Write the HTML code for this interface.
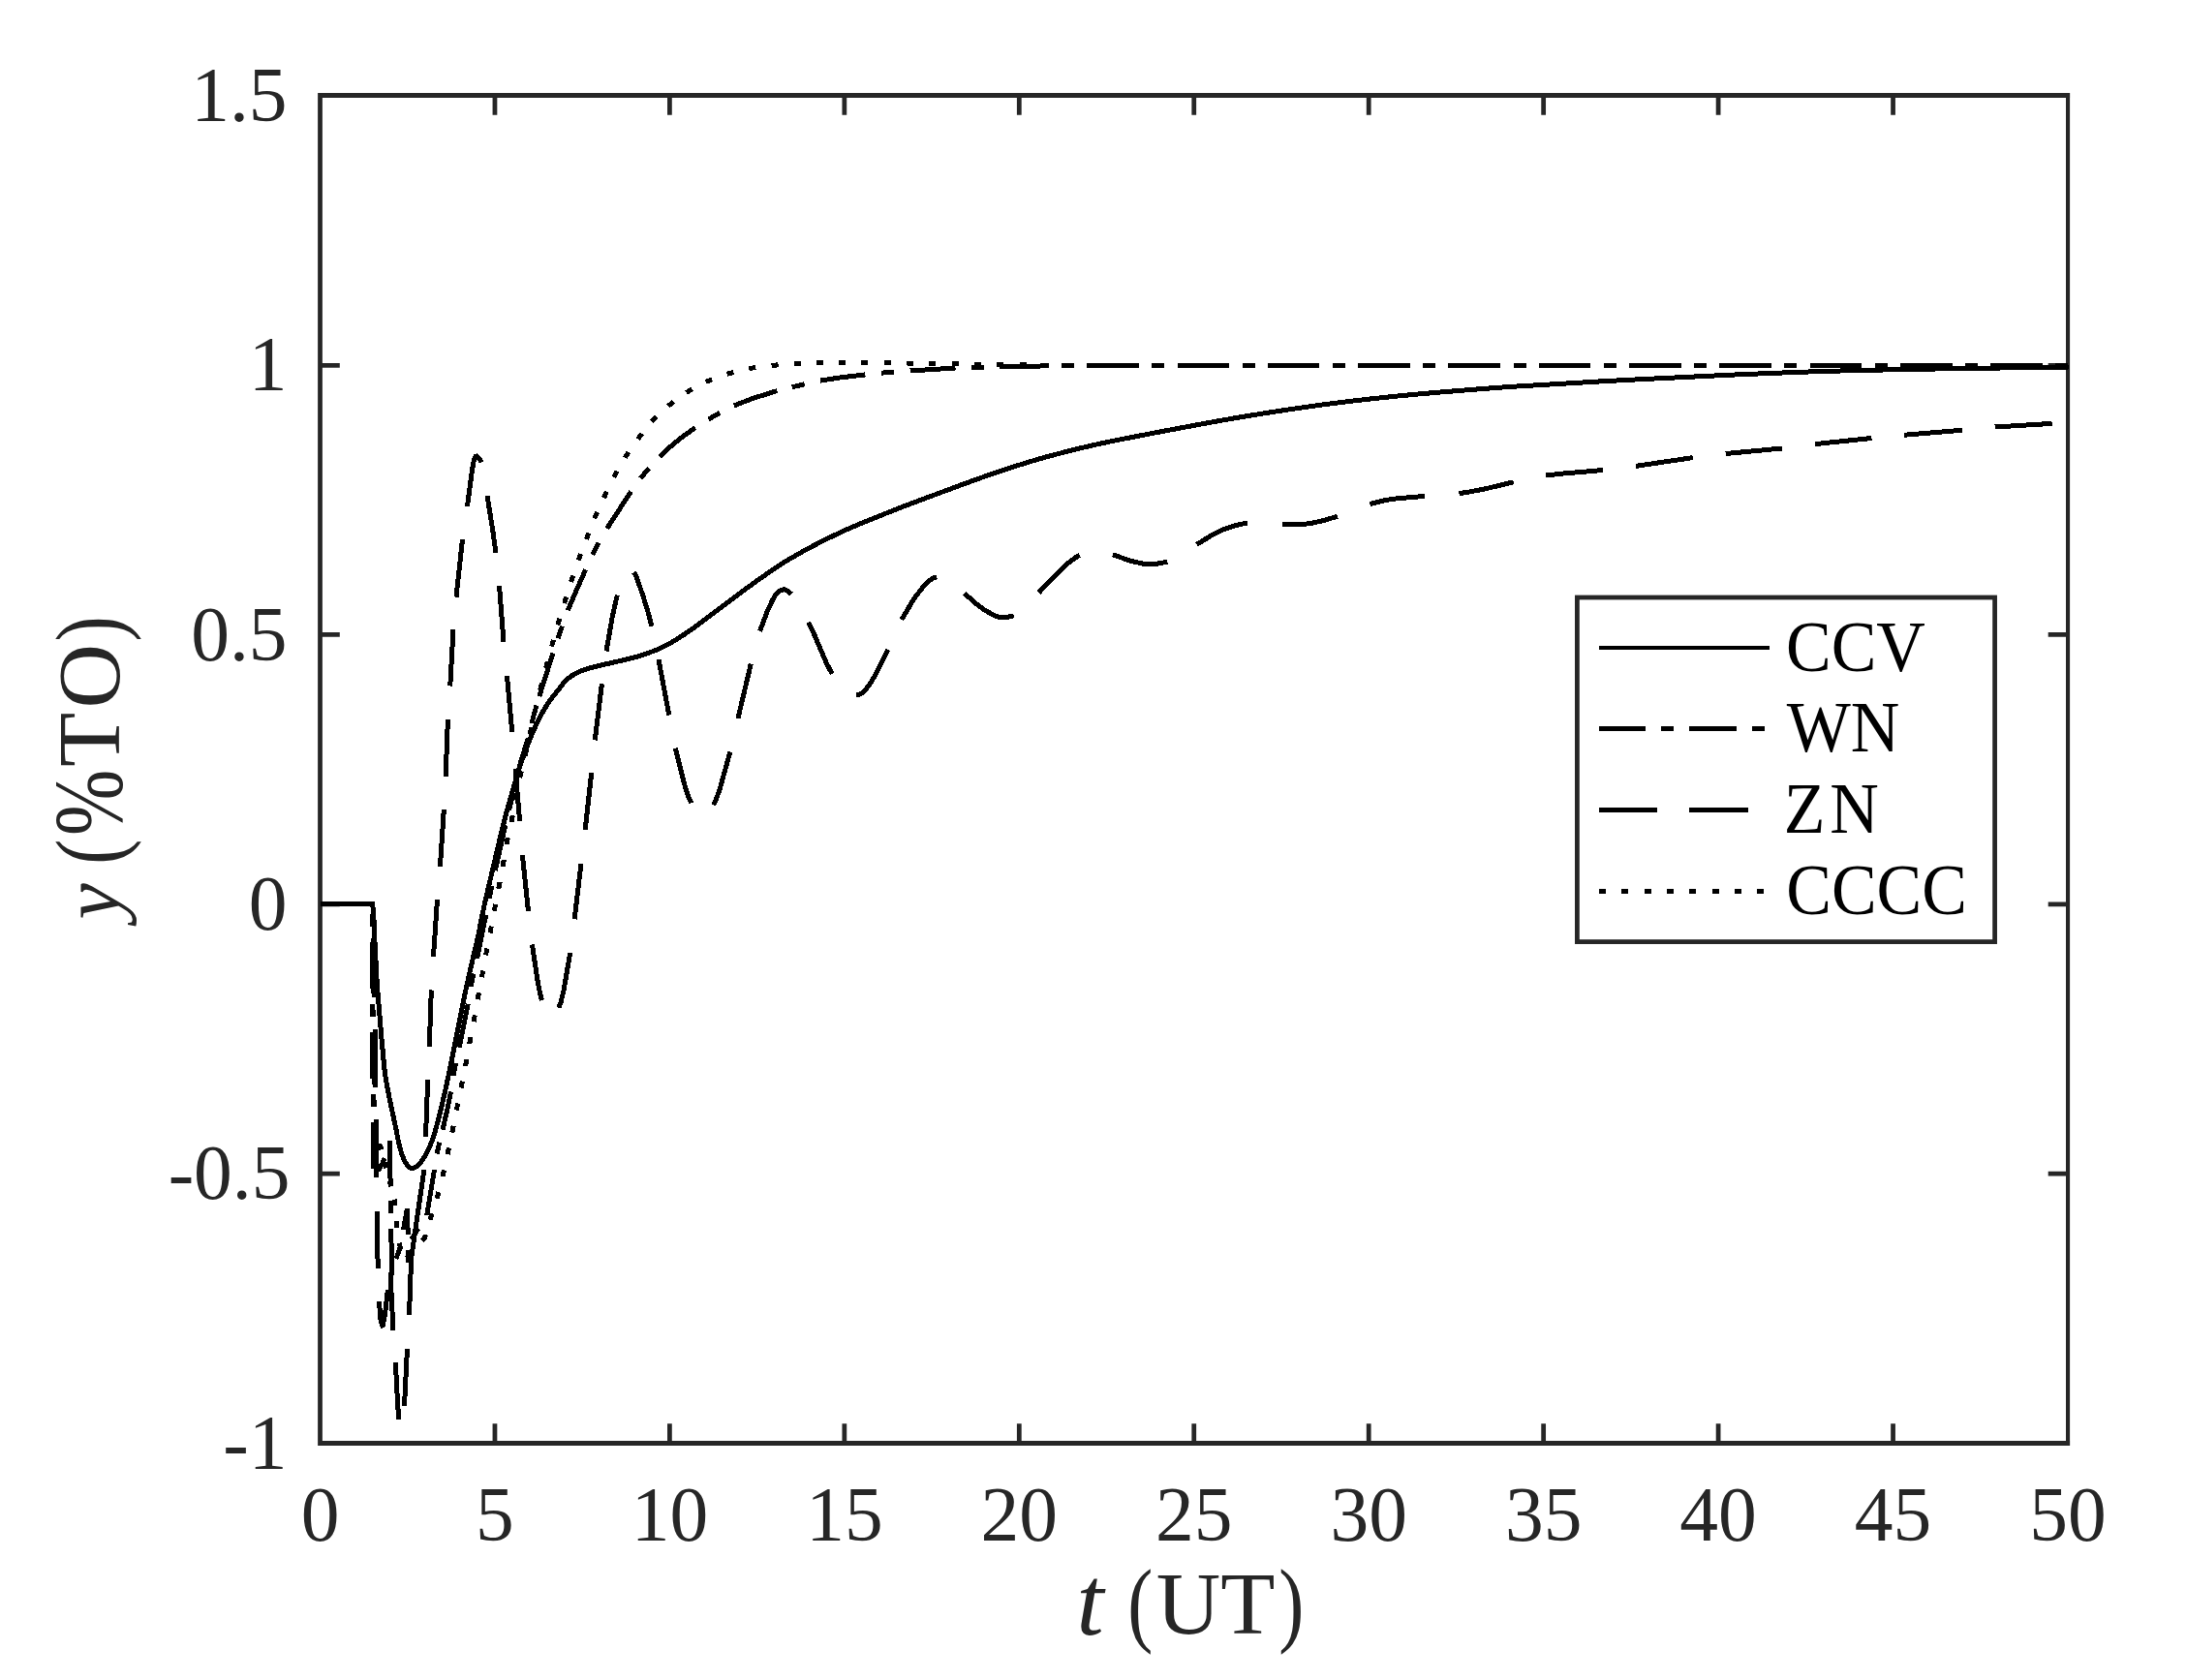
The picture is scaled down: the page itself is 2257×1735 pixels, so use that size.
<!DOCTYPE html>
<html lang="en">
<head>
<meta charset="utf-8">
<title>Step response comparison: CCV, WN, ZN, CCCC</title>
<style>
html,body{margin:0;padding:0;background:#fff;}
body{width:2257px;height:1735px;overflow:hidden;}
svg{display:block;}
</style>
</head>
<body>
<svg width="2257" height="1735" viewBox="0 0 2257 1735">
<rect x="0" y="0" width="2257" height="1735" fill="#fff"/>
<g fill="none" stroke="#262626" stroke-width="4.76">
<path d="M330.50 96.12V1492.88M328.12 98.50H2137.05M328.12 1490.50H2137.05"/>
<path d="M2135.05 96.12V1492.88" stroke-width="4.1"/>
<path d="M510.95 1490.50v-20.30M510.95 98.50v20.30M691.40 1490.50v-20.30M691.40 98.50v20.30M871.85 1490.50v-20.30M871.85 98.50v20.30M1052.30 1490.50v-20.30M1052.30 98.50v20.30M1232.75 1490.50v-20.30M1232.75 98.50v20.30M1413.20 1490.50v-20.30M1413.20 98.50v20.30M1593.65 1490.50v-20.30M1593.65 98.50v20.30M1774.10 1490.50v-20.30M1774.10 98.50v20.30M1954.55 1490.50v-20.30M1954.55 98.50v20.30M330.50 1212.20h20.30M2135.00 1212.20h-20.30M330.50 933.80h20.30M2135.00 933.80h-20.30M330.50 655.40h20.30M2135.00 655.40h-20.30M330.50 377.30h20.30M2135.00 377.30h-20.30"/>
</g>
<g fill="none" stroke="#000" stroke-width="5.00" stroke-linejoin="miter" stroke-miterlimit="2" shape-rendering="crispEdges">
<path d="M330.5 933.7L384.6 933.7C384.9 935.4 385.2 938.4 385.5 942.0C386.2 950.1 386.8 970.4 387.5 983.0C388.2 995.6 388.8 1008.3 389.5 1018.0C390.2 1028.2 390.9 1035.6 391.6 1044.0C392.6 1055.7 393.5 1067.6 394.5 1078.0C395.6 1089.5 396.6 1102.3 397.7 1110.0C398.6 1116.7 399.6 1121.0 400.5 1126.0C401.5 1131.3 402.5 1136.2 403.5 1141.0C405.1 1148.7 406.7 1155.8 408.3 1163.3C410.0 1171.1 411.6 1181.0 413.3 1186.7C415.0 1192.4 416.6 1197.1 418.3 1200.0C419.5 1202.2 420.8 1204.2 422.0 1205.0C423.3 1205.9 424.5 1206.7 425.8 1206.7C427.0 1206.7 428.3 1205.7 429.5 1205.0C430.8 1204.2 432.0 1203.1 433.3 1201.7C435.5 1199.3 437.8 1195.7 440.0 1191.7C442.2 1187.7 444.5 1182.8 446.7 1176.7C448.9 1170.7 451.1 1161.8 453.3 1153.3C455.5 1144.7 457.8 1135.0 460.0 1125.0C462.2 1115.0 464.5 1104.2 466.7 1093.3C468.9 1082.6 471.1 1071.0 473.3 1060.0C475.5 1048.8 477.8 1037.2 480.0 1026.7C482.2 1016.2 484.5 1006.5 486.7 996.7C488.9 987.0 491.1 978.6 493.3 968.3C494.9 961.0 496.4 952.1 498.0 944.6C499.8 935.9 501.7 927.8 503.5 919.8C505.6 910.8 507.6 902.3 509.7 893.5C511.8 884.7 513.8 875.8 515.9 867.2C517.9 858.8 520.0 850.1 522.0 842.4C524.1 834.6 526.1 827.9 528.2 820.7C530.3 813.5 532.3 805.8 534.4 799.1C536.5 792.4 538.5 786.2 540.6 780.5C543.2 773.3 545.8 766.6 548.4 760.4C551.5 753.1 554.5 746.0 557.6 740.2C560.7 734.3 563.8 729.3 566.9 724.8C569.9 720.4 573.0 716.8 576.0 713.0C579.3 708.8 582.7 703.7 586.0 701.0C589.0 698.5 592.0 696.8 595.0 695.3C597.8 693.8 600.7 692.6 603.5 691.6C608.7 689.8 613.8 688.7 619.0 687.4C626.1 685.6 633.3 684.2 640.4 682.5C646.5 681.0 652.6 679.7 658.7 677.9C664.8 676.1 670.9 674.0 677.0 671.5C683.1 669.0 689.2 665.8 695.3 662.3C701.4 658.8 707.5 654.6 713.6 650.4C719.7 646.2 725.8 641.3 731.9 636.7C738.0 632.1 744.1 627.6 750.2 623.0C757.0 617.9 763.7 612.7 770.5 607.8C784.5 597.7 798.6 587.3 812.6 578.9C830.1 568.4 847.7 559.2 865.2 551.0C882.7 542.8 900.3 535.9 917.8 528.9C935.3 521.9 952.9 515.5 970.4 509.0C990.4 501.6 1010.3 494.0 1030.3 487.4C1047.1 481.8 1063.8 476.4 1080.6 471.8C1097.4 467.1 1114.2 462.9 1131.0 459.2C1147.8 455.5 1164.5 452.4 1181.3 449.1C1187.5 447.9 1193.8 446.7 1200.0 445.5C1230.5 439.8 1261.0 433.9 1291.5 429.0C1322.0 424.1 1352.5 419.5 1383.0 415.7C1398.2 413.8 1413.5 412.1 1428.7 410.5C1444.0 408.9 1459.2 407.4 1474.5 406.1C1505.0 403.5 1535.5 401.0 1566.0 399.0C1596.5 397.0 1627.0 395.3 1657.5 393.6C1671.7 392.8 1685.8 392.1 1700.0 391.4C1731.0 389.8 1762.0 388.2 1793.0 386.9C1827.3 385.5 1861.5 384.0 1895.8 383.1C1930.1 382.2 1964.5 381.6 1998.8 381.0C2033.1 380.4 2067.4 380.0 2101.7 379.5C2113.1 379.3 2124.6 379.2 2136.0 379.0"/>
<path d="M330.5 933.7L378.6 933.7M384.6 943.7L384.7 956.7M384.7 972.7L384.8 1021.0M384.9 1037.0L384.9 1050.0M384.9 1065.9L385.0 1114.1M385.1 1130.0L385.1 1143.0M385.2 1159.0L385.3 1207.0M390.1 1209.6L394.8 1201.6L397.3 1196.1M402.5 1178.0L403.1 1224.0M403.4 1240.0L403.6 1253.0M403.8 1269.0L404.5 1317.0M409.0 1300.0L413.5 1287.0M416.5 1270.0L420.5 1248.0L421.2 1275.0M424.8 1279.7L431.9 1268.6M440.7 1255.0L448.5 1208.0M451.2 1191.6L453.7 1179.7M457.0 1166.8L461.9 1145.6L465.5 1127.5M468.1 1110.9L470.5 1097.7M474.2 1081.7L483.3 1036.7M486.2 1018.9L488.8 1005.4M492.5 990.0L501.7 945.0M505.1 927.9L507.8 914.7M511.3 899.1L521.8 852.2M525.4 836.7L528.7 824.1M532.2 808.6L537.6 787.1L545.2 762.3M549.0 746.9L552.2 734.3M556.8 719.0L571.0 674.5M576.1 659.3L580.5 646.6M586.4 630.3L593.3 613.7L604.7 588.2M611.7 572.8L618.1 560.5M626.7 545.8L651.4 507.7M661.3 494.1L669.9 483.6M681.2 471.5L689.0 464.1L697.9 456.4L707.2 449.2L717.8 441.8M731.5 433.0L743.1 426.4M757.8 418.9L778.6 411.0L802.4 403.6M817.8 399.8L830.7 396.7M847.0 393.1L868.6 389.8L893.4 386.9M909.7 385.2L923.0 384.1M939.6 383.0L986.5 380.0M1002.8 379.5L1016.0 379.1M1032.3 378.7L1080.3 377.9M1096.2 377.8L1109.1 377.7M1125.0 377.6L1173.3 377.5M1189.3 377.5L1202.3 377.5M1218.3 377.5L1266.6 377.5M1282.6 377.5L1295.6 377.5M1311.6 377.5L1359.9 377.5M1375.9 377.5L1388.9 377.5M1404.9 377.5L1453.2 377.5M1469.2 377.5L1482.2 377.5M1498.2 377.5L1546.5 377.5M1562.5 377.5L1575.5 377.5M1591.5 377.5L1639.8 377.5M1655.8 377.5L1668.8 377.5M1684.8 377.5L1733.1 377.5M1749.1 377.5L1762.1 377.5M1778.1 377.5L1826.4 377.5M1842.4 377.5L1855.4 377.5M1871.4 377.5L1919.7 377.5M1935.7 377.5L1948.7 377.5M1964.7 377.5L2013.0 377.5M2029.0 377.5L2042.0 377.5M2058.0 377.5L2106.3 377.5M2122.3 377.5L2135.3 377.5"/>
<path d="M330.5 933.7L384.6 933.7L384.7 936.4M385.4 969.4L386.5 1029.7M387.1 1062.7L387.8 1123.0M388.1 1156.0L388.7 1216.0M389.1 1251.0L390.2 1310.0M391.5 1344.2L393.0 1362.8L394.2 1367.8L394.8 1368.9L395.2 1368.8L397.7 1355.7L400.3 1332.2M403.0 1314.0L406.0 1374.0M408.3 1407.0L410.8 1453.3L412.0 1466.0M417.5 1452.0L420.5 1393.0M422.5 1358.0L424.6 1300.0M429.3 1267.0L437.9 1208.0M439.5 1174.2L441.7 1115.0M443.3 1080.8L445.3 1022.5M447.5 988.0L451.5 929.0M454.4 895.0L458.3 836.2M460.1 802.2L462.4 743.3M464.8 708.5L468.0 650.0M471.0 616.6L477.5 557.0M482.5 523.0L487.6 484.5L489.6 474.3L490.9 471.3L492.0 471.1L494.8 473.4L497.0 477.5M503.0 512.0L508.6 546.6L512.0 571.0M515.5 604.7L520.0 663.0M523.5 698.0L528.7 756.0M532.0 794.0L536.6 848.0M539.4 883.2L545.5 941.0M549.5 975.5L555.1 1013.2L557.6 1026.1L559.5 1033.0M576.8 1040.7L579.0 1035.4L582.0 1023.1L588.7 984.0M593.1 949.3L600.0 891.7M604.2 856.9L610.7 798.3M614.3 764.4L621.4 706.3M626.0 672.5L632.4 636.0L637.3 614.6M654.5 591.0L655.9 593.3L657.8 597.7L664.1 616.0L668.9 631.5L673.0 646.9M680.0 681.0L690.8 738.6M697.3 772.8L706.5 809.5L710.6 822.2L713.7 829.3M736.6 831.4L739.8 824.4L743.1 815.1L753.9 776.4M761.9 742.0L775.3 685.6M784.5 651.8L792.4 630.7L798.1 618.8L801.1 613.9L805.8 609.8L808.8 608.8L810.4 609.0L812.5 610.0L817.2 613.5M834.8 642.7L839.4 652.2L853.1 684.5L859.2 696.0M883.9 717.7L888.0 717.0L890.2 715.8L893.1 713.0L898.2 706.4L904.4 696.1L916.7 670.7M931.0 639.8L941.7 621.6L946.4 614.7L951.9 607.7L956.2 602.7L959.4 599.9L964.0 596.8L967.2 595.8M995.6 612.8L1007.8 623.4L1013.9 628.2L1018.5 631.2L1028.0 636.2L1031.6 637.5L1035.1 637.8L1040.5 637.2L1046.7 635.9M1072.7 611.8L1101.6 582.6L1109.5 576.4L1114.7 573.3M1149.0 572.8L1167.4 579.3L1182.5 582.6L1186.7 582.9L1192.5 582.6L1205.3 580.2M1235.5 562.3L1252.1 552.2L1261.3 547.4L1276.6 542.4L1282.4 541.1L1288.2 540.4M1323.9 541.5L1341.9 541.6L1352.2 540.7L1365.6 537.8L1381.0 533.2M1414.5 520.6L1427.2 517.3L1438.4 515.2L1470.8 512.4M1506.5 509.6L1517.2 508.0L1535.0 504.5L1562.7 497.8M1596.3 491.0L1611.0 489.3L1655.3 485.5M1689.0 481.4L1747.8 472.6M1781.6 468.5L1840.0 463.0M1874.0 458.6L1932.5 452.5M1966.3 449.2L2025.9 444.3M2059.6 441.0L2118.6 437.4"/>
<path d="M330.5 933.7L337.3 933.7M353.6 933.7L360.6 933.7M377.0 933.7L384.0 933.7M384.7 949.4L384.8 956.4M384.9 972.7L385.0 979.7M385.1 996.0L385.2 1003.0M385.3 1019.3L385.3 1026.3M385.5 1042.7L385.5 1049.7M385.7 1066.0L385.7 1073.0M385.8 1089.3L385.9 1096.3M386.0 1112.6L386.1 1119.6M386.2 1136.0L386.3 1143.0M386.4 1159.3L386.5 1166.3M391.7 1181.3L393.9 1187.3M397.4 1200.6L398.8 1206.3M402.2 1219.6L403.6 1225.3M407.0 1238.6L407.9 1244.9M409.2 1261.1L409.9 1267.9M412.3 1283.6L413.7 1290.2M419.8 1299.5L424.5 1294.3M436.0 1281.3L438.5 1278.5L439.4 1275.2M444.0 1259.8L446.0 1253.2M451.0 1237.8L452.9 1231.1M457.0 1215.1L458.6 1208.3M462.1 1192.2L463.5 1185.4M466.8 1169.7L468.2 1162.8M471.3 1146.5L472.7 1139.5M476.0 1123.5L477.4 1116.6M480.6 1100.9L481.8 1094.1M484.7 1078.1L485.9 1071.2M489.1 1055.2L490.3 1048.3M493.2 1032.2L494.4 1025.3M497.4 1009.3L498.6 1002.4M501.6 986.4L502.9 979.5M506.0 963.5L507.3 956.6M510.3 940.7L511.6 933.9M514.7 917.8L516.1 911.0M519.1 894.9L520.3 888.1M523.0 872.1L524.3 865.2M528.0 849.0L529.3 842.1M532.0 826.0L533.3 819.1M536.7 803.2L538.3 796.4M542.2 780.6L543.8 773.8M547.3 757.9L548.8 751.1M552.3 735.2L553.9 728.4M557.8 712.6L559.5 705.8M563.5 690.0L565.2 683.3M569.6 667.6L571.4 660.9M575.9 645.5L577.9 638.8M582.7 623.1L584.7 616.4M589.6 601.0L591.8 594.3M597.1 578.7L599.5 572.1M605.3 557.0L607.9 550.5M613.8 535.2L616.6 528.7M623.5 514.1L626.5 507.8M633.7 492.9L637.0 486.7M645.3 472.7L649.1 466.9M658.6 453.5L662.8 447.9M673.1 435.2L677.9 430.1M689.9 419.3L695.3 414.9M708.6 405.4L714.6 401.9M728.8 394.5L735.2 391.8M750.6 386.3L757.3 384.4M773.3 380.6L780.3 379.5M796.6 377.5L803.6 376.8M819.9 375.4L826.8 375.0M842.9 374.4L849.8 374.3M865.9 374.2L872.9 374.2M889.2 374.3L896.2 374.3M912.8 374.5L919.8 374.6M936.1 375.0L943.0 375.2M959.1 375.4L966.1 375.6M982.9 375.8L990.0 376.0M1006.2 376.2L1013.2 376.4M1029.4 376.6L1036.4 376.7M1052.6 376.9L1059.6 376.9M1075.8 377.1L1082.8 377.1M1099.0 377.3L1106.0 377.3M1122.2 377.4L1129.2 377.4M1145.5 377.4L1152.5 377.5M1168.8 377.5L1175.8 377.5M1192.2 377.5L1199.2 377.5M1215.5 377.5L1222.5 377.5M1238.8 377.5L1245.8 377.5M1262.1 377.5L1269.1 377.5M1285.5 377.5L1292.5 377.5M1308.8 377.5L1315.8 377.5M1332.1 377.5L1339.1 377.5M1355.4 377.5L1362.4 377.5M1378.8 377.5L1385.8 377.5M1402.1 377.5L1409.1 377.5M1425.4 377.5L1432.4 377.5M1448.7 377.5L1455.7 377.5M1472.1 377.5L1479.1 377.5M1495.4 377.5L1502.4 377.5M1518.7 377.5L1525.7 377.5M1542.0 377.5L1549.0 377.5M1565.4 377.5L1572.4 377.5M1588.7 377.5L1595.7 377.5M1612.0 377.5L1619.0 377.5M1635.3 377.5L1642.3 377.5M1658.7 377.5L1665.7 377.5M1682.0 377.5L1689.0 377.5M1705.3 377.5L1712.3 377.5M1728.6 377.5L1735.6 377.5M1752.0 377.5L1759.0 377.5M1775.3 377.5L1782.3 377.5M1798.6 377.5L1805.6 377.5M1821.9 377.5L1828.9 377.5M1845.3 377.5L1852.3 377.5M1868.6 377.5L1875.6 377.5M1891.9 377.5L1898.9 377.5M1915.2 377.5L1922.2 377.5M1938.6 377.5L1945.6 377.5M1961.9 377.5L1968.9 377.5M1985.2 377.5L1992.2 377.5M2008.5 377.5L2015.5 377.5M2031.9 377.5L2038.9 377.5M2055.2 377.5L2062.2 377.5M2078.5 377.5L2085.5 377.5M2101.8 377.5L2108.8 377.5M2125.2 377.5L2132.2 377.5"/>
<path d="M424.6 1300L429.3 1267M421.5 1291L421.6 1304"/>
</g>
<g font-family="'Liberation Serif', 'Times New Roman', serif" font-size="79.5" fill="#262626">
<text x="330.5" y="1590.8" text-anchor="middle">0</text>
<text x="510.9" y="1590.8" text-anchor="middle">5</text>
<text x="691.4" y="1590.8" text-anchor="middle">10</text>
<text x="871.9" y="1590.8" text-anchor="middle">15</text>
<text x="1052.3" y="1590.8" text-anchor="middle">20</text>
<text x="1232.8" y="1590.8" text-anchor="middle">25</text>
<text x="1413.2" y="1590.8" text-anchor="middle">30</text>
<text x="1593.7" y="1590.8" text-anchor="middle">35</text>
<text x="1774.1" y="1590.8" text-anchor="middle">40</text>
<text x="1954.5" y="1590.8" text-anchor="middle">45</text>
<text x="2135.0" y="1590.8" text-anchor="middle">50</text>
<text x="296.5" y="1516.8" text-anchor="end">-1</text>
<text x="299.5" y="1238.4" text-anchor="end">-0.5</text>
<text x="296.5" y="960.0" text-anchor="end">0</text>
<text x="296.5" y="681.6" text-anchor="end">0.5</text>
<text x="296.5" y="403.2" text-anchor="end">1</text>
<text x="296.5" y="124.8" text-anchor="end">1.5</text>
</g>
<g font-family="'Liberation Serif', 'Times New Roman', serif" fill="#262626">
<g aria-label="t (UT)"><title>t (UT)</title>
<text x="1111.5" y="1687.6" font-size="101" font-style="italic">t</text>
<text transform="translate(1164.2 1688.4) scale(0.812 1)" font-size="96.4">(</text>
<text x="1193.8" y="1687" font-size="92">UT</text>
<text transform="translate(1320.3 1688.4) scale(0.812 1)" font-size="96.4">)</text>
</g>
<g transform="translate(123 0) rotate(-90)" aria-label="y (%TO)"><title>y (%TO)</title>
<text x="-949.6" y="0" font-size="84" font-style="italic">y</text>
<text transform="translate(-892.8 1.56) scale(0.812 1)" font-size="96.4">(</text>
<text transform="translate(-863.1 3) scale(0.807 1)" font-size="101.6">%</text>
<text x="-792" y="0" font-size="92" letter-spacing="6">TO</text>
<text transform="translate(-662.6 1.56) scale(0.812 1)" font-size="96.4">)</text>
</g>
</g>
<rect x="1628.4" y="617.0" width="431.2" height="355.6" fill="#fff" stroke="#262626" stroke-width="4.76"/>
<g fill="none" stroke="#000" stroke-width="5" shape-rendering="crispEdges">
<path d="M1651 669.0H1827" stroke-width="4.2" shape-rendering="auto"/>
<path d="M1651 752.5H1827" stroke-dasharray="48.3 16 13 16"/>
<path d="M1651 836.5H1827" stroke-dasharray="60.3 33"/>
<path d="M1651 920.5H1827" stroke-dasharray="7 16.325"/>
</g>
<g font-family="'Liberation Serif', 'Times New Roman', serif" font-size="74" fill="#000">
<text transform="translate(1844.0 692.6) scale(0.946 1)">CCV</text>
<text transform="translate(1844.7 775.9) scale(0.946 1)">WN</text>
<text transform="translate(1841.8 860.0) scale(0.946 1)" letter-spacing="5">ZN</text>
<text transform="translate(1844.2 943.9) scale(0.946 1)">CCCC</text>
</g>
</svg>
</body>
</html>
